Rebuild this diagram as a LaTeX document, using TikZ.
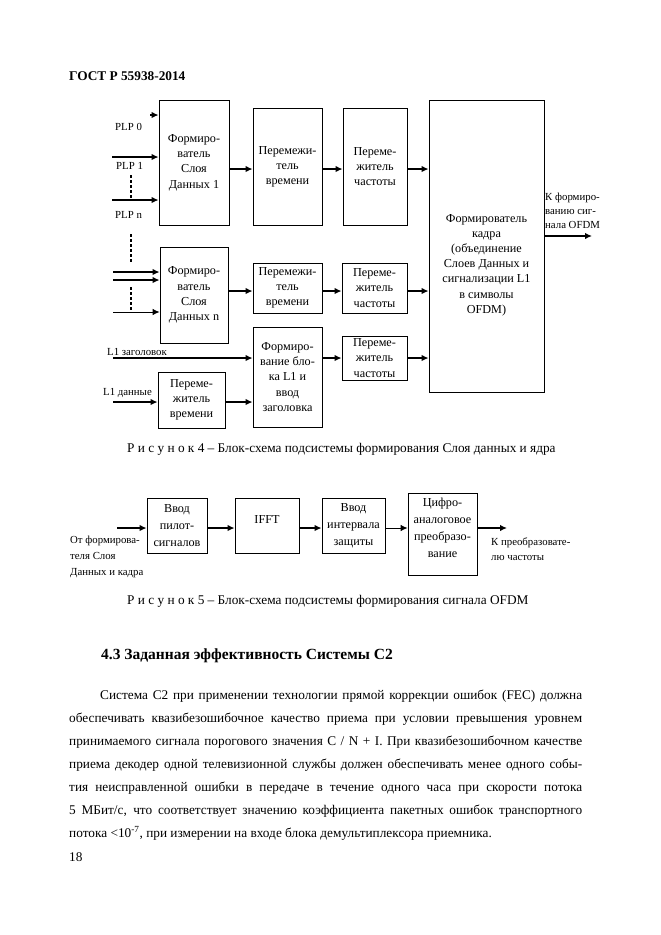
\documentclass[tikz,border=0pt]{standalone}
\usepackage{fontspec}
\setmainfont{Liberation Serif}
\usetikzlibrary{positioning}
\usetikzlibrary{arrows.meta}

\begin{document}
\begin{tikzpicture}[x=1pt,y=-1pt,>={Latex[length=7pt,width=6.5pt]},
    block/.style={draw,line width=0.8pt,inner sep=0pt,align=center,
                  font=\fontsize{12.2}{15.2}\selectfont},
    tall block/.style={block,font=\fontsize{12.2}{17.2}\selectfont},
    lbl/.style={inner sep=0pt,anchor=west,align=left,font=\fontsize{10.8}{14}\selectfont},
    flow/.style={->,line width=1.8pt},
    thin flow/.style={->,line width=0.9pt},
    gap/.style={line width=1.8pt,dash pattern=on 3pt off 2pt},
    body/.style={inner sep=0pt,anchor=west,font=\fontsize{13.3}{23}\selectfont}]
\useasboundingbox (0,0) rectangle (661,935);

\node[body,font=\bfseries\fontsize{13.3}{16}\selectfont] (head) at (69,76) {ГОСТ Р 55938-2014};

% figure 4
\node[block,minimum width=70pt,minimum height=125pt] (fd1) at (194,162.5) {Формиро-\\ватель\\Слоя\\Данных 1};
\node[block,minimum width=69pt,minimum height=117pt] (ti1) at (287.5,166.5) {Перемежи-\\тель\\времени};
\node[block,minimum width=64pt,minimum height=117pt] (fi1) at (375,166.5) {Переме-\\житель\\частоты};
\node[block,minimum width=115pt,minimum height=292pt] (frame) at (486.5,246) {};
\node[block,draw=none] (frametext) at (486.5,265) {Формирователь\\кадра\\(объединение\\Слоев Данных и\\сигнализации L1\\в символы\\OFDM)};

\node[block,minimum width=68pt,minimum height=96pt] (fdn) at (194,295) {Формиро-\\ватель\\Слоя\\Данных n};
\node[block,minimum width=69pt,minimum height=50pt] (ti2) at (287.5,288) {Перемежи-\\тель\\времени};
\node[block,minimum width=65pt,minimum height=50pt] (fi2) at (374.5,288) {Переме-\\житель\\частоты};
\node[block,minimum width=69pt,minimum height=100pt] (fl1) at (287.5,377) {Формиро-\\вание бло-\\ка L1 и\\ввод\\заголовка};
\node[block,minimum width=65pt,minimum height=44pt] (fi3) at (374.5,358) {Переме-\\житель\\частоты};
\node[block,minimum width=67pt,minimum height=56pt] (ti4) at (191.5,400) {Переме-\\житель\\времени};

\coordinate (r1) at (0,169);
\coordinate (r2) at (0,291);
\coordinate (r3) at (0,358);
\coordinate (r4) at (0,402);
\coordinate (plp0) at (150,115);
\coordinate (plp1) at (112,157);
\coordinate (plpn) at (112,200);
\coordinate (inA) at (113,272);
\coordinate (inB) at (113,280);
\coordinate (inC) at (113,312);
\coordinate (l1h) at (113,358);
\coordinate (l1d) at (113,402);
\coordinate (out4) at (592,236);

\node[lbl] (lplp0) at (115,127) {PLP 0};
\node[lbl] (lplp1) at (116,166) {PLP 1};
\node[lbl] (lplpn) at (115,215) {PLP n};
\node[lbl] (ll1h) at (107,352) {L1 заголовок};
\node[lbl] (ll1d) at (103,393) {L1 данные};
\node[lbl,anchor=north west] (lout4) at (545,193) {К формиро-\\ванию сиг-\\нала OFDM};

\draw[flow] (plp0) -- (fd1.west |- plp0);
\draw[flow] (plp1) -- (fd1.west |- plp1);
\draw[flow] (plpn) -- (fd1.west |- plpn);
\draw[gap] (131,175) -- (131,200);
\draw[gap] (131,234) -- (131,262);
\draw[flow] (inA) -- (fdn.west |- inA);
\draw[flow] (inB) -- (fdn.west |- inB);
\draw[thin flow] (inC) -- (fdn.west |- inC);
\draw[gap] (131,287) -- (131,312);

\draw[flow] (fd1.east |- r1) -- (ti1.west |- r1);
\draw[flow] (ti1.east |- r1) -- (fi1.west |- r1);
\draw[flow] (fi1.east |- r1) -- (frame.west |- r1);
\draw[flow] (fdn.east |- r2) -- (ti2.west |- r2);
\draw[flow] (ti2.east |- r2) -- (fi2.west |- r2);
\draw[flow] (fi2.east |- r2) -- (frame.west |- r2);
\draw[flow] (l1h) -- (fl1.west |- r3);
\draw[flow] (fl1.east |- r3) -- (fi3.west |- r3);
\draw[flow] (fi3.east |- r3) -- (frame.west |- r3);
\draw[flow] (l1d) -- (ti4.west |- r4);
\draw[flow] (ti4.east |- r4) -- (fl1.west |- r4);
\draw[flow] (frame.east |- out4) -- (out4);

\node[body] (cap4) at (127,449) {Р и с у н о к 4 – Блок-схема подсистемы формирования Слоя данных и ядра};

% figure 5
\node[tall block,minimum width=60pt,minimum height=55pt] (pil) at (177,525.5) {Ввод\\пилот-\\сигналов};
\node[tall block,minimum width=64pt,minimum height=55pt] (ifft) at (267,525.5) {IFFT\\[-6pt]};
\node[tall block,minimum width=63pt,minimum height=55pt] (guard) at (353.5,525.5) {Ввод\\интервала\\защиты};
\node[tall block,minimum width=69pt,minimum height=82pt] (dac) at (442.5,534) {Цифро-\\аналоговое\\преобразо-\\вание\\[-5pt]};

\coordinate (r5) at (0,528);
\coordinate (in5) at (117,528);
\coordinate (out5) at (507,528);

\node[lbl,anchor=north west,font=\fontsize{10.8}{16}\selectfont] (lin5) at (70,536) {От формирова-\\теля Слоя\\Данных и кадра};
\node[lbl,anchor=north west,font=\fontsize{10.8}{15}\selectfont] (lout5) at (491,538) {К преобразовате-\\лю частоты};

\draw[flow] (in5) -- (pil.west |- r5);
\draw[flow] (pil.east |- r5) -- (ifft.west |- r5);
\draw[flow] (ifft.east |- r5) -- (guard.west |- r5);
\draw[thin flow] (guard.east |- r5) -- (dac.west |- r5);
\draw[flow] (dac.east |- r5) -- (out5);

\node[body] (cap5) at (127,601) {Р и с у н о к 5 – Блок-схема подсистемы формирования сигнала OFDM};

% text
\node[body,font=\bfseries\fontsize{15.5}{18}\selectfont] (sec) at (101,656) {4.3 Заданная эффективность Системы C2};
\node[body,anchor=north west,text width=513pt,align=justify] (para) at (69,690)
  {\hspace*{31pt}Система C2 при применении технологии прямой коррекции ошибок (FEC) должна\linebreak
   обеспечивать квазибезошибочное качество приема при условии превышения уровнем\linebreak
   принимаемого сигнала порогового значения C / N + I. При квазибезошибочном качестве\linebreak
   приема декодер одной телевизионной службы должен обеспечивать менее одного собы-\linebreak
   тия неисправленной ошибки в передаче в течение одного часа при скорости потока\linebreak
   5 МБит/с, что соответствует значению коэффициента пакетных ошибок транспортного\linebreak
   потока <10\textsuperscript{-7}, при измерении на входе блока демультиплексора приемника.};
\node[body] (page) at (69,857) {18};
\end{tikzpicture}
\end{document}
